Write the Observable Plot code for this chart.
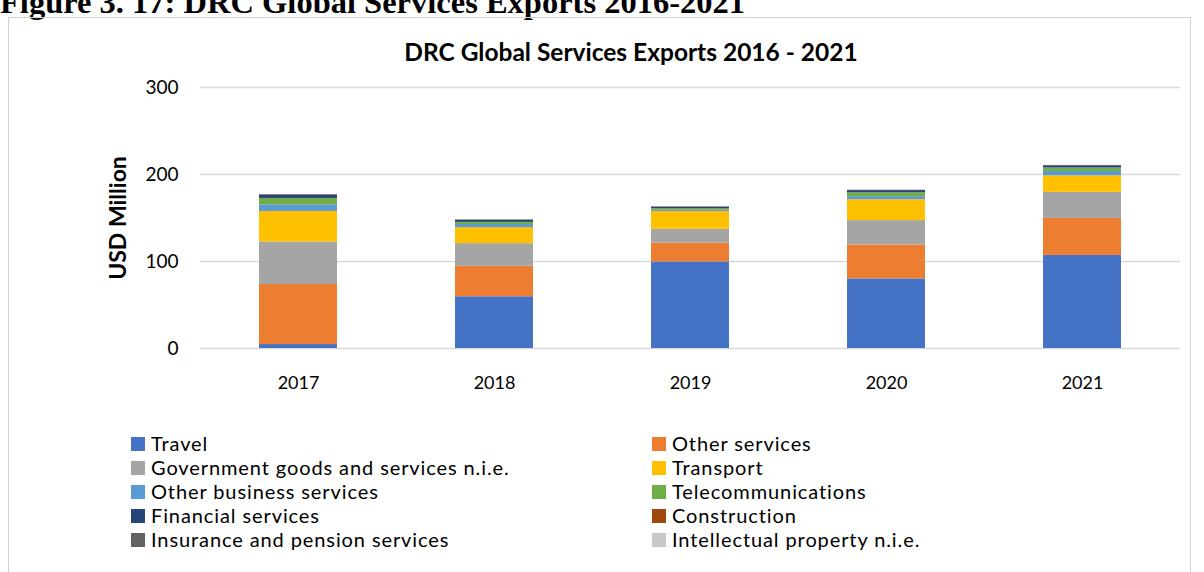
<!DOCTYPE html>
<html>
<head>
<meta charset="utf-8">
<script src="https://cdn.jsdelivr.net/npm/d3@7"></script>
<script src="https://cdn.jsdelivr.net/npm/@observablehq/plot@0.6"></script>
<style>
  html, body { margin: 0; padding: 0; background: #fff; overflow: hidden; }
  #wrap { position: relative; width: 1204px; height: 572px; }
  #fig { position: absolute; left: 0; top: -14px; font: bold 32.5px/32px "Liberation Serif", "Times New Roman", serif; color: #000; white-space: nowrap; }
  #box { position: absolute; left: 8px; top: 17px; width: 1183px; height: 600px; border: 1px solid #d0d0d0; box-sizing: border-box; }
  #title { position: absolute; left: 0; width: 1262px; top: 40px; text-align: center; font: bold 24.5px/24.5px Lato, sans-serif; color: #000; white-space: nowrap; }
  #chart { position: absolute; left: 0; top: 0; }
  #legend { position: absolute; left: 131px; top: 431px; display: grid; grid-template-columns: 521px 420px; grid-auto-rows: 24px; font: 20px/24px Lato, sans-serif; letter-spacing: 0.9px; color: #000; }
  .item { display: flex; align-items: baseline; white-space: nowrap; }
  .sw { display: inline-block; width: 14px; height: 14px; margin-right: 6px; flex: none; }
</style>
</head>
<body>
<div id="wrap">
  <div id="fig">Figure 3. 17: DRC Global Services Exports 2016-2021</div>
  <div id="box"></div>
  <div id="chart"></div>
  <div id="title">DRC Global Services Exports 2016 - 2021</div>
  <div id="legend"></div>
</div>
<script>
const years = ["2017", "2018", "2019", "2020", "2021"];
const seriesNames = [
  "Travel", "Other services", "Government goods and services n.i.e.", "Transport",
  "Other business services", "Telecommunications", "Financial services", "Construction",
  "Insurance and pension services", "Intellectual property n.i.e."
];
const colors = ["#4472C4", "#ED7D31", "#A5A5A5", "#FFC000", "#5B9BD5", "#70AD47", "#264478", "#9E480E", "#636363", "#C8C8C8"];

const travel          = [4.5, 59.5, 99.5, 80, 107];
const otherServices   = [69, 35, 21.5, 39, 42.5];
const government      = [49, 26, 16, 28, 30];
const transport       = [35, 18.5, 20.5, 24, 19];
const otherBusiness   = [7.5, 3.5, 1.5, 3.5, 5];
const telecom         = [7.5, 2.5, 1.5, 4.5, 4];
const financial       = [4, 2.5, 2, 2.5, 2.5];
const construction    = [0.2, 0.2, 0.2, 0.2, 0.2];
const insurance       = [0.2, 0.3, 0.3, 0.2, 0.2];
const intellectual    = [0.1, 0.2, 0.3, 0.2, 0.1];

const yTicks = [0, 100, 200, 300];

const seriesValues = [travel, otherServices, government, transport, otherBusiness, telecom, financial, construction, insurance, intellectual];
const rows = [];
seriesNames.forEach((s, i) => years.forEach((y, j) => rows.push({year: y, series: s, value: seriesValues[i][j]})));

const chart = Plot.plot({
  width: 1204,
  height: 400,
  marginTop: 87,
  marginBottom: 52,
  marginLeft: 200,
  marginRight: 24,
  style: { fontFamily: "Lato, sans-serif", fontSize: "18px", color: "#000", background: "transparent" },
  x: { domain: years, paddingInner: 0.6, paddingOuter: 0.3, label: null },
  y: { domain: [0, 300], label: null },
  color: { domain: seriesNames, range: colors },
  marks: [
    Plot.gridY(yTicks, { stroke: "#d9d9d9", strokeOpacity: 1, strokeWidth: 1.5 }),
    Plot.barY(rows, Plot.stackY({ x: "year", y: "value", fill: "series", order: seriesNames })),
    Plot.axisX({ tickSize: 0, tickPadding: 28, label: null }),
    Plot.axisY(yTicks, { tickSize: 0, tickPadding: 22, label: null, fontSize: 19, tickFormat: d3.format("d") }),
    Plot.text(["USD Million"], { frameAnchor: "left", textAnchor: "middle", dx: -82, rotate: -90, fontWeight: "bold", fontSize: 23 })
  ]
});
document.getElementById("chart").appendChild(chart);

const legend = document.getElementById("legend");
seriesNames.forEach((s, i) => {
  const d = document.createElement("div");
  d.className = "item";
  const sw = document.createElement("span");
  sw.className = "sw";
  sw.style.background = colors[i];
  const t = document.createElement("span");
  t.textContent = s;
  d.appendChild(sw); d.appendChild(t);
  legend.appendChild(d);
});
</script>
</body>
</html>
